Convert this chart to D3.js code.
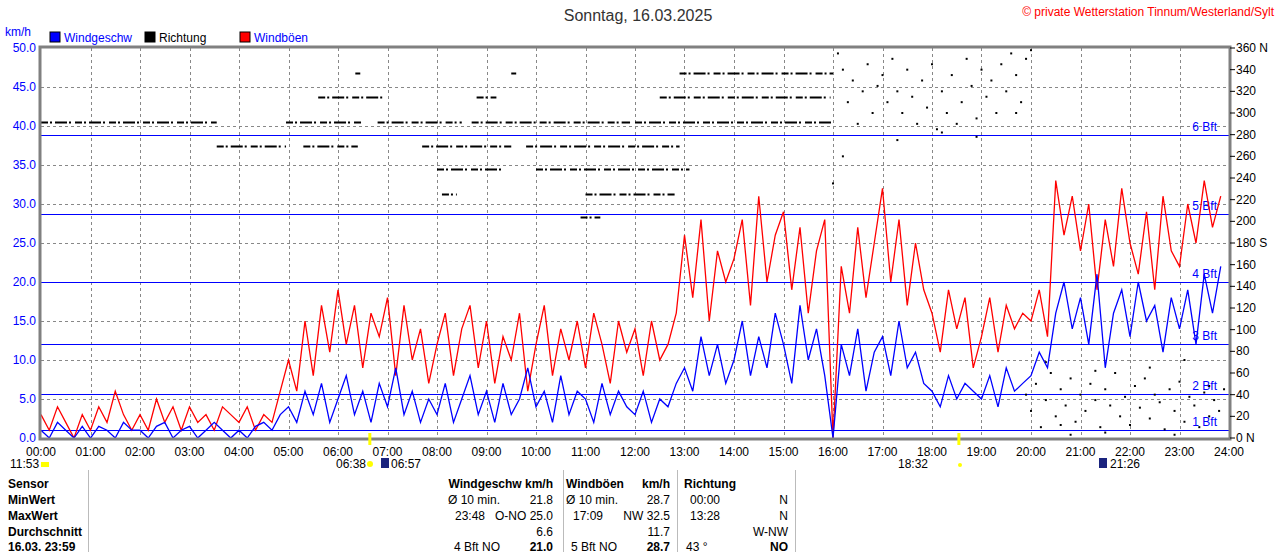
<!DOCTYPE html>
<html><head><meta charset="utf-8">
<script src="https://cdn.jsdelivr.net/npm/d3@7"></script>
<style>
body{margin:0;background:#fff;font-family:"Liberation Sans Narrow","Liberation Sans",Arial,sans-serif;}
text{font-size:12px;}
</style></head>
<body><div id="chart"></div>
<script>
// 10-minute values, km/h
const windgeschw = [
 1,0,2,1,0,1.5, 0,1.5,1,0,2,1, 1,0,1.5,2,0,1, 1.5,0,1,2,1,0, 1,0,1.5,2,1,3,
 4,2,6,3,7,2, 5,8,3,6,2,7, 4,9,3,6,2,5, 3,7,2,5,8,3, 6,2,7,3,5,9,
 4,6,2,8,3,6, 5,2,7,3,6,4, 3,6,2,5,4,7, 9,6,13,8,12,7, 10,15,8,13,9,16,
 12,7,17,10,14,8, 0,12,8,14,6,11, 13,8,15,9,11,7, 6,4,8,5,7,6, 5,8,4,9,6,7,
 8,11,9,16,20,14, 18,12,21,9,16,19, 13,20,15,17,11,18, 14,19,12,21,16,22
];
const windboeen = [
 3,1,4,2,0,3, 1,4,2,6,3,1, 3,1,5,2,4,1, 4,2,3,1,4,3, 2,4,1,3,2,6,
 10,6,15,8,17,11, 19,12,17,9,16,13, 18,8,17,10,14,7, 12,16,8,14,17,9, 15,7,13,10,16,6,
 12,17,8,14,10,15, 9,16,12,7,15,11, 14,8,15,10,12,16, 26,18,28,15,24,20, 23,28,17,31,20,26,
 29,19,27,16,24,28, 0,22,16,27,18,25, 32,20,28,17,25,19, 16,11,19,14,18,9, 13,18,11,17,14,16,
 15,19,13,33,26,31, 24,30,19,28,22,32, 25,21,29,19,31,24, 22,30,25,33,27,31
];
// direction runs [startHour, endHour, degrees]
const richtungRuns = [
 [0,3.55,292],[4.95,6.5,292],[6.8,8.5,292],[8.7,11.9,292],[12.0,16.0,292],
 [3.55,4.95,270],[5.3,6.4,270],[7.7,9.5,270],[9.8,12.9,270],
 [5.6,6.9,315],[8.8,9.2,315],[12.5,15.95,315],
 [6.35,6.45,337],[9.5,9.6,337],[12.9,16.0,337],
 [8.0,9.3,248],[10.0,13.1,248],
 [8.1,8.4,225],[11.0,12.8,225],
 [10.9,11.3,204]
];
// scattered direction points [hour, degrees]
const richtungPunkte = [
 [16.1,355],[16.2,340],[16.3,310],[16.4,330],[16.5,290],[16.6,320],[16.7,345],[16.8,300],[16.9,325],[17.0,335],
 [17.1,310],[17.2,350],[17.3,320],[17.4,300],[17.5,340],[17.6,315],[17.7,290],[17.8,330],[17.9,305],[18.0,345],
 [18.1,285],[18.2,320],[18.3,300],[18.4,335],[18.5,290],[18.6,310],[18.7,350],[18.8,325],[18.9,295],[19.0,340],
 [19.1,315],[19.2,330],[19.3,300],[19.4,345],[19.5,320],[19.6,355],[19.7,335],[19.8,310],[19.9,350],[20.0,358],
 [16.2,260],[16.0,235],[17.3,275],[18.2,282],[19.7,300],[18.9,278],
 [19.9,40],[20.0,25],[20.1,50],[20.2,10],[20.3,35],[20.4,60],[20.5,20],[20.6,45],[20.7,30],[20.8,55],
 [20.9,15],[21.0,40],[21.1,25],[21.2,50],[21.3,35],[21.4,10],[21.5,45],[21.6,30],[21.7,60],[21.8,20],
 [21.9,38],[22.0,12],[22.1,48],[22.2,28],[22.3,55],[22.4,18],[22.5,40],[22.6,33],[22.7,8],[22.8,45],
 [22.9,25],[23.0,52],[23.1,15],[23.2,38],[23.3,30],[23.4,10],[23.5,42],[23.6,20],[23.7,35],[23.8,25],
 [23.9,45],[20.3,70],[21.5,5],[22.4,65],[23.1,72],[20.8,3],[22.9,3],[21.3,62],[23.6,48],[20.6,12]
];
const beaufort = [[1,"1 Bft"],[5.6,"2 Bft"],[12,"3 Bft"],[20,"4 Bft"],[28.7,"5 Bft"],[38.8,"6 Bft"]];
const kmhTicks = d3.range(0, 50.01, 5);
const degTicks = d3.range(0, 361, 20);
const hourTicks = d3.range(0, 25);

const W = 1280, H = 552;
const pL = 41, pR = 1229, pT = 48, pB = 438;

const svg = d3.select("#chart").append("svg").attr("width", W).attr("height", H);

const x = d3.scaleLinear().domain([0, 24]).range([pL, pR]);
const y = d3.scaleLinear().domain([0, 50]).range([pB, pT]);
const yDeg = d3.scaleLinear().domain([0, 360]).range([pB, pT]);

// grid
svg.append("g").selectAll("line").data(hourTicks.slice(1, 24)).join("line")
  .attr("x1", d => Math.round(x(d)) + 0.5).attr("x2", d => Math.round(x(d)) + 0.5).attr("y1", pT).attr("y2", pB)
  .attr("stroke", "#888").attr("stroke-dasharray", "3,3");
svg.append("g").selectAll("line").data(kmhTicks.slice(1, 10)).join("line")
  .attr("x1", pL).attr("x2", pR).attr("y1", d => Math.round(y(d)) + 0.5).attr("y2", d => Math.round(y(d)) + 0.5)
  .attr("stroke", "#888").attr("stroke-dasharray", "3,3");

// beaufort lines
svg.append("g").selectAll("line").data(beaufort).join("line")
  .attr("x1", pL).attr("x2", pR).attr("y1", d => Math.round(y(d[0])) + 0.5).attr("y2", d => Math.round(y(d[0])) + 0.5)
  .attr("stroke", "#0000ff");
svg.append("g").selectAll("text").data(beaufort).join("text")
  .attr("x", pR - 12).attr("y", d => y(d[0]) - 4).attr("text-anchor", "end")
  .attr("fill", "#0000ff").text(d => d[1]);

// direction
svg.append("g").selectAll("line").data(richtungRuns).join("line")
  .attr("x1", d => x(d[0])).attr("x2", d => x(d[1]))
  .attr("y1", d => Math.round(yDeg(d[2])) + 0.5).attr("y2", d => Math.round(yDeg(d[2])) + 0.5)
  .attr("stroke", "#000").attr("stroke-width", 2).attr("stroke-dasharray", "7,2,2,3,12,2,2,4");
svg.append("g").selectAll("rect").data(richtungPunkte).join("rect")
  .attr("x", d => x(d[0]) - 1).attr("y", d => yDeg(d[1]) - 1)
  .attr("width", 2).attr("height", 2).attr("fill", "#000");

// series
const t = (d, i) => x(i / 6);
svg.append("path").datum(windboeen)
  .attr("d", d3.line().x(t).y(d => y(d)))
  .attr("fill", "none").attr("stroke", "#ff0000").attr("stroke-width", 1.3);
svg.append("path").datum(windgeschw)
  .attr("d", d3.line().x(t).y(d => y(d)))
  .attr("fill", "none").attr("stroke", "#0000ff").attr("stroke-width", 1.3);

// frame
svg.append("rect").attr("x", pL - 1).attr("y", pT - 1).attr("width", pR - pL + 2).attr("height", pB - pT + 2)
  .attr("fill", "none").attr("stroke", "#808080").attr("stroke-width", 3);

// left axis
svg.append("g").selectAll("text").data(kmhTicks).join("text")
  .attr("x", 36).attr("y", d => y(d) + 4).attr("text-anchor", "end").attr("fill", "#0000ff")
  .text(d => d.toFixed(1));
svg.append("text").attr("x", 5).attr("y", 36).attr("fill", "#0000ff").text("km/h");

// right axis
const ra = svg.append("g");
ra.selectAll("line").data(degTicks).join("line")
  .attr("x1", pR + 1).attr("x2", pR + 6).attr("y1", d => yDeg(d)).attr("y2", d => yDeg(d)).attr("stroke", "#000");
ra.selectAll("text").data(degTicks).join("text")
  .attr("x", pR + 7).attr("y", d => yDeg(d) + 4).attr("fill", "#000")
  .text(d => d === 360 ? "360 N" : d === 180 ? "180 S" : d === 0 ? "0    N" : d);

// x axis
svg.append("g").selectAll("text").data(hourTicks).join("text")
  .attr("x", d => x(d)).attr("y", 456).attr("text-anchor", "middle").attr("fill", "#000")
  .text(d => String(d).padStart(2, "0") + ":00");

// legend
const legend = [["Windgeschw", "#0000ff", "#0000ff", 50], ["Richtung", "#000", "#000", 145], ["Windböen", "#ff0000", "#0000ff", 240]];
legend.forEach(l => {
  svg.append("rect").attr("x", l[3]).attr("y", 32).attr("width", 10).attr("height", 10).attr("fill", l[1]).attr("stroke", "#000");
  svg.append("text").attr("x", l[3] + 14).attr("y", 42).attr("fill", l[2]).text(l[0]);
});
svg.append("text").attr("x", 638).attr("y", 21).attr("text-anchor", "middle").style("font-size", "16px").attr("fill", "#333").text("Sonntag, 16.03.2025");
svg.append("text").attr("x", 1274).attr("y", 16).attr("text-anchor", "end").attr("fill", "#ff0000").text("© private Wetterstation Tinnum/Westerland/Sylt");

// sun / moon
const sunEvents = [[11.883, "11:53", 10], [6.633, "06:38", 336], [6.95, "06:57", 391], [18.533, "18:32", 898], [21.433, "21:26", 1110]];
svg.append("rect").attr("x", x(6.633) - 1).attr("y", 433).attr("width", 3).attr("height", 12).attr("fill", "#ffff00");
svg.append("rect").attr("x", x(18.533) - 1).attr("y", 433).attr("width", 3).attr("height", 12).attr("fill", "#ffff00");
sunEvents.forEach(e => {
  svg.append("text").attr("x", e[2]).attr("y", 468).attr("fill", "#000").text(e[1]);
});
svg.append("rect").attr("x", 41).attr("y", 462).attr("width", 8).attr("height", 5).attr("fill", "#ffff00");
svg.append("circle").attr("cx", 370).attr("cy", 464).attr("r", 3).attr("fill", "#ffff00");
svg.append("rect").attr("x", 381).attr("y", 458).attr("width", 8).attr("height", 10).attr("fill", "#1a237e");
svg.append("circle").attr("cx", 960).attr("cy", 465).attr("r", 2).attr("fill", "#ffff00");
svg.append("rect").attr("x", 1099).attr("y", 458).attr("width", 8).attr("height", 10).attr("fill", "#1a237e");

// table
const rowY = [488, 504, 520, 536, 551];
const labels = ["Sensor", "MinWert", "MaxWert", "Durchschnitt", "16.03. 23:59"];
labels.forEach((s, i) => svg.append("text").attr("x", 8).attr("y", rowY[i]).attr("font-weight", "bold").text(s));
[88, 563, 677, 795].forEach(xx => svg.append("line").attr("x1", xx + 0.5).attr("x2", xx + 0.5).attr("y1", 470).attr("y2", 552).attr("stroke", "#bbb"));
const cells = [
 [553, 0, "Windgeschw km/h", true], [670, 0, "km/h", true], [566, 0, "Windböen", true, "start"], [684, 0, "Richtung", true, "start"],
 [448, 1, "Ø 10 min.", false, "start"], [553, 1, "21.8"], [566, 1, "Ø 10 min.", false, "start"], [670, 1, "28.7"], [690, 1, "00:00", false, "start"], [788, 1, "N"],
 [455, 2, "23:48", false, "start"], [553, 2, "O-NO 25.0"], [573, 2, "17:09", false, "start"], [670, 2, "NW 32.5"], [690, 2, "13:28", false, "start"], [788, 2, "N"],
 [553, 3, "6.6"], [670, 3, "11.7"], [788, 3, "W-NW"],
 [454, 4, "4 Bft NO", false, "start"], [553, 4, "21.0", true], [571, 4, "5 Bft NO", false, "start"], [670, 4, "28.7", true], [686, 4, "43 °", false, "start"], [788, 4, "NO", true]
];
cells.forEach(c => svg.append("text").attr("x", c[0]).attr("y", rowY[c[1]])
  .attr("text-anchor", c[4] || "end").attr("font-weight", c[3] ? "bold" : "normal").text(c[2]));
</script>
</body></html>
